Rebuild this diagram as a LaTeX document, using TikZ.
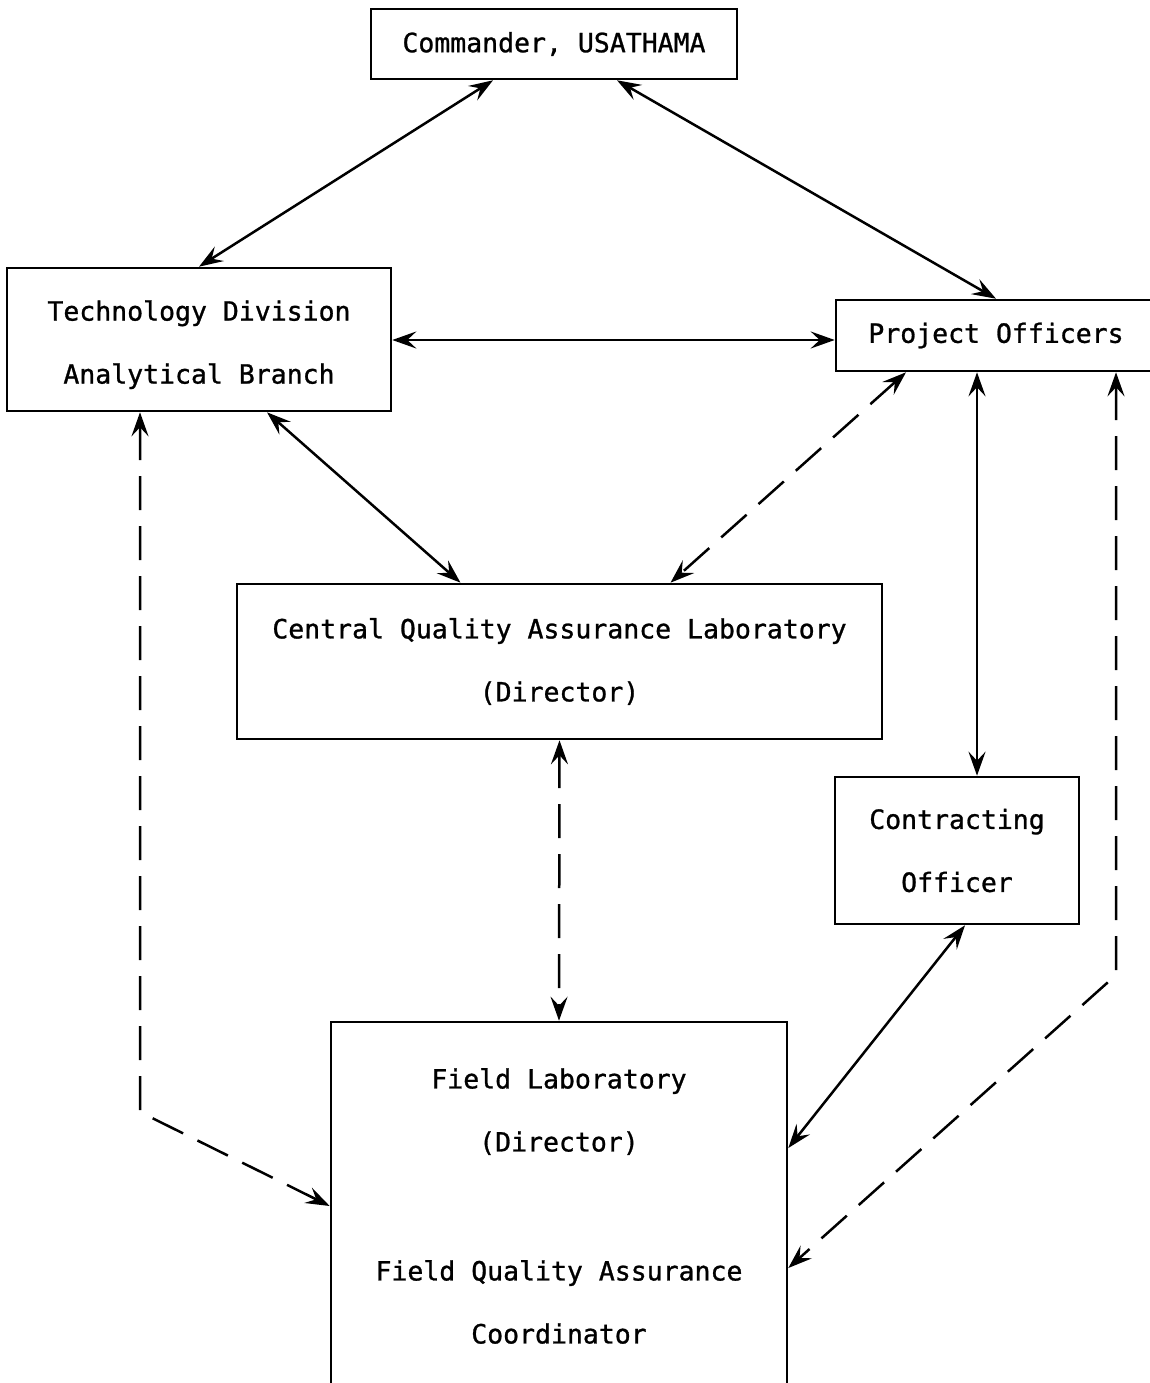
\documentclass[tikz,border=0pt]{standalone}
\usepackage{fontspec}
\setmonofont[FakeBold=1.0,AutoFakeBold=1.0]{DejaVu Sans Mono}
\usetikzlibrary{arrows.meta,calc}
\begin{document}
\begin{tikzpicture}[x=1pt,y=-1pt,
  box/.style={draw,line width=2.6pt,inner sep=0pt,align=center,
    font=\ttfamily\bfseries\fontsize{26.5}{63}\selectfont},
  tip/.style={Stealth[length=24pt,width=17pt,inset=9pt]},
  conn/.style={line width=2.5pt,{Stealth[length=24pt,width=17pt,inset=9pt]}-{Stealth[length=24pt,width=17pt,inset=9pt]}},
  dsh/.style={conn,dash pattern=on 34pt off 16pt}]
\useasboundingbox (0,0) rectangle (1150,1383);
\node[box,minimum width=366pt,minimum height=70pt] (cmd) at (554,44) {Commander, USATHAMA};
\node[box,minimum width=384pt,minimum height=143pt] (tech) at (199,339.5) {\raisebox{-5pt}{\begin{tabular}{@{}c@{}}Technology Division\\Analytical Branch\end{tabular}}};
\node[box,minimum width=320pt,minimum height=71pt] (proj) at (996,335.5) {\raisebox{-3pt}{Project Officers}};
\node[box,minimum width=645pt,minimum height=155pt] (cqal) at (559.5,661.5) {Central Quality Assurance Laboratory\\(Director)};
\node[box,minimum width=244pt,minimum height=147pt] (con) at (957,850.5) {Contracting\\Officer};
\node[box,minimum width=456pt,minimum height=368pt] (field) at (559,1206) {Field Laboratory\\(Director)\\[66pt]Field Quality Assurance\\Coordinator};
\coordinate (rbend) at (1116,975);
\coordinate (lbend) at (140,1112);
% solid connectors
\draw[conn] ([xshift=-61pt]cmd.south) -- (tech.north);
\draw[conn] ([xshift=63pt]cmd.south) -- (proj.north);
\draw[conn] ([yshift=-0.5pt]tech.east) -- ([yshift=-0.5pt]tech.east -| proj.west);
\draw[conn] ([xshift=68pt]tech.south) -- ([xshift=-99pt]cqal.north);
\draw[conn] ([xshift=20pt]con.north |- proj.south) -- ([xshift=20pt]con.north);
\draw[conn] ([xshift=8pt]con.south) -- ([yshift=58pt]field.east);
% dashed connectors
\draw[dsh] ([xshift=-90pt]proj.south) -- ([xshift=111pt]cqal.north);
\draw[dsh] (cqal.south) -- (field.north);
\draw[dsh] (rbend |- proj.south) -- (rbend) -- ([yshift=-62pt]field.east);
\draw[dsh] (lbend |- tech.south) -- (lbend) -- (field.west);
\end{tikzpicture}
\end{document}
